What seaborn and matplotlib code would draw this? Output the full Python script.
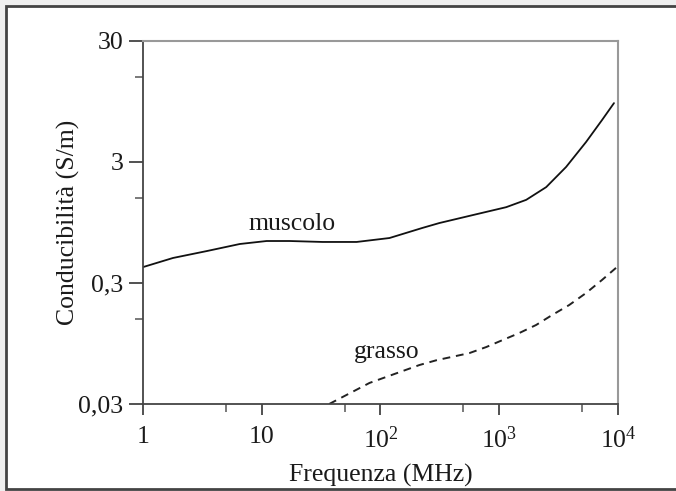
import numpy as np
import pandas as pd
import matplotlib
matplotlib.use("Agg")
import matplotlib.pyplot as plt
from matplotlib.patches import Rectangle
from matplotlib.ticker import FixedLocator, NullFormatter
import seaborn as sns

# values (frequency in MHz, conductivity in S/m)
freq_muscolo = [1, 1.79, 3.45, 6.53, 11.0, 17.2, 32.6, 62.9, 119, 225, 313,
                593, 1145, 1687, 2485, 3656, 5385, 7340, 9250]
sigma_muscolo = [0.406, 0.483, 0.551, 0.630, 0.667, 0.667, 0.655, 0.655, 0.706,
                 0.855, 0.939, 1.09, 1.27, 1.46, 1.86, 2.73, 4.39, 6.67, 9.2]

freq_grasso = [37, 80.9, 213, 296, 560, 778, 1060, 1473, 2046, 2786, 3873,
               5385, 7340, 9620]
sigma_grasso = [0.030, 0.0448, 0.063, 0.069, 0.079, 0.0887, 0.101, 0.1157,
                0.135, 0.163, 0.197, 0.248, 0.318, 0.40]

x_ticks = [1, 10, 100, 1000, 10000]
x_labels = ["1", "10", "$10^{2}$", "$10^{3}$", "$10^{4}$"]
x_minor = [5, 50, 500, 5000]
y_ticks = [0.03, 0.3, 3, 30]
y_labels = ["0,03", "0,3", "3", "30"]
y_minor = [0.15, 1.5, 15]

sns.set_style("ticks")
plt.rcParams["font.family"] = ["Liberation Serif", "DejaVu Serif"]
plt.rcParams["mathtext.fontset"] = "custom"
plt.rcParams["mathtext.rm"] = "Liberation Serif"
plt.rcParams["mathtext.it"] = "Liberation Serif"

txt = "#1a1a1a"
fs = 18.5

fig = plt.figure(figsize=(6.76, 4.91), dpi=100, facecolor="#efefef")
# white framed panel behind the axes
frame = Rectangle((6 / 676, 2 / 491), 680 / 676, 483 / 491,
                  transform=fig.transFigure, facecolor="white",
                  edgecolor="#444444", linewidth=2, zorder=-10)
fig.add_artist(frame)
ax = fig.add_axes([0.2115, 0.1772, 0.7027, 0.7393])
ax.set_zorder(5)
ax.set_facecolor("white")

df_m = pd.DataFrame({"f": freq_muscolo, "s": sigma_muscolo})
df_g = pd.DataFrame({"f": freq_grasso, "s": sigma_grasso})
sns.lineplot(data=df_m, x="f", y="s", ax=ax, color="#111111", linewidth=1.3)
sns.lineplot(data=df_g, x="f", y="s", ax=ax, color="#222222", linewidth=1.4,
             linestyle=(0, (4, 3)))

ax.set_xscale("log")
ax.set_yscale("log")
ax.set_xlim(1, 10000)
ax.set_ylim(0.03, 30)

ax.xaxis.set_major_locator(FixedLocator(x_ticks))
ax.xaxis.set_minor_locator(FixedLocator(x_minor))
ax.set_xticklabels(x_labels)
ax.xaxis.set_minor_formatter(NullFormatter())
ax.yaxis.set_major_locator(FixedLocator(y_ticks))
ax.yaxis.set_minor_locator(FixedLocator(y_minor))
ax.set_yticklabels(y_labels)
ax.yaxis.set_minor_formatter(NullFormatter())

ax.tick_params(axis="both", which="major", direction="out", length=8, width=1.2,
               colors="#333333", labelcolor=txt, labelsize=fs)
ax.tick_params(axis="x", which="major", pad=8)
ax.tick_params(axis="y", which="major", length=10, pad=4)
ax.tick_params(axis="both", which="minor", direction="out", length=6, width=1.1,
               colors="#555555")

for side in ["left", "bottom"]:
    ax.spines[side].set_color("#444444")
    ax.spines[side].set_linewidth(1.3)
for side in ["top", "right"]:
    ax.spines[side].set_visible(True)
    ax.spines[side].set_color("#999999")
    ax.spines[side].set_linewidth(1.5)

ax.set_xlabel("Frequenza (MHz)", fontsize=fs, color=txt, labelpad=8)
ax.set_ylabel("Conducibilità (S/m)", fontsize=fs, color=txt, labelpad=-1.5)

ax.text(17.9, 0.82, "muscolo", fontsize=fs, color=txt, ha="center", va="baseline")
ax.text(112, 0.072, "grasso", fontsize=fs, color=txt, ha="center", va="baseline")

fig.savefig("out.png", dpi=100, facecolor=fig.get_facecolor())
